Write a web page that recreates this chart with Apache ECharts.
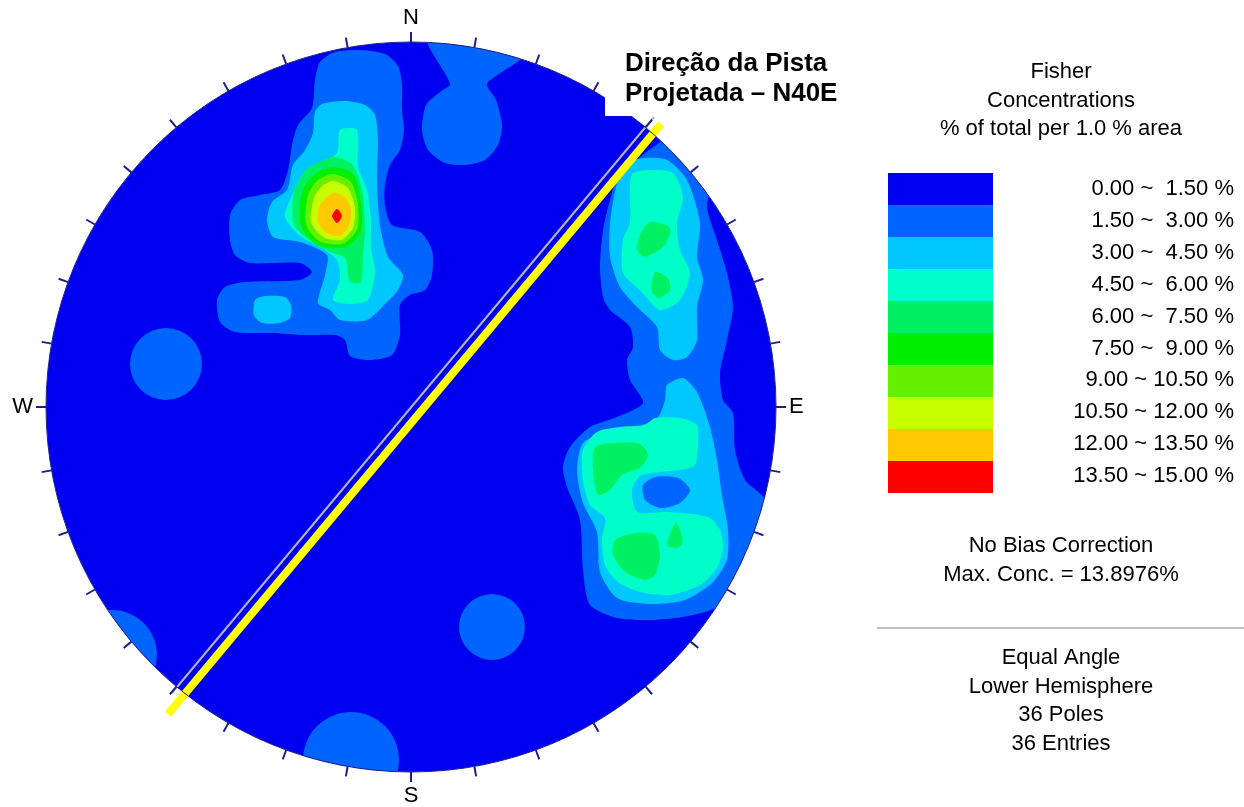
<!DOCTYPE html>
<html>
<head>
<meta charset="utf-8">
<script src="https://cdn.jsdelivr.net/npm/echarts@6/dist/echarts.min.js"></script>
<style>
  html, body { margin: 0; padding: 0; background: #fff; }
  #chart { width: 1244px; height: 807px; }
</style>
</head>
<body>
<div id="chart"></div>
<script>
// Fisher concentrations, % of total per 1.0 % area
var levelBreaks = [0, 1.5, 3, 4.5, 6, 7.5, 9, 10.5, 12, 13.5, 15];
var levelColors = ['#0000F0', '#0064FF', '#00C8FF', '#00FFC8', '#00F064', '#00F000', '#64F000', '#C8FF00', '#FFC800', '#FF0000'];
var levelLabels = ['0.00 ~  1.50 %', '1.50 ~  3.00 %', '3.00 ~  4.50 %', '4.50 ~  6.00 %', '6.00 ~  7.50 %',
  '7.50 ~  9.00 %', '9.00 ~ 10.50 %', '10.50 ~ 12.00 %', '12.00 ~ 13.50 %', '13.50 ~ 15.00 %'];

// stereonet units: x east, y north, primitive circle radius 365
var netRadius = 365;
var compassAngles = [0, 90, 180, 270];
var compassNames = ['N', 'E', 'S', 'W'];

// contour outlines, one list per level (index into levelBreaks)
var patches1 = [
  [[-96, 327], [-91, 345], [-76, 355], [-51, 357], [-26, 353], [-13, 341], [-9, 322], [-9, 297], [-7, 277], [-11, 257],
   [-21, 242], [-26, 222], [-26, 202], [-19, 182], [9, 175], [21, 157], [21, 132], [14, 117], [-1, 112], [-11, 102],
   [-11, 72], [-19, 52], [-41, 47], [-61, 51], [-66, 67], [-76, 72], [-111, 72], [-136, 74], [-176, 75], [-191, 85],
   [-194, 107], [-186, 120], [-166, 125], [-111, 127], [-99, 135], [-111, 144], [-161, 144], [-176, 152], [-181, 167],
   [-181, 192], [-171, 207], [-151, 212], [-131, 217], [-123, 237], [-119, 262], [-113, 282], [-99, 299]],
  [[17, 369], [114, 367], [111, 349], [94, 337], [76, 323], [85, 307], [91, 282], [87, 262], [74, 247], [54, 242],
   [34, 244], [17, 257], [11, 277], [15, 302], [29, 315], [39, 323]],
  [[219, 242], [234, 254], [251, 267], [257, 279], [289, 257], [301, 229], [296, 200], [306, 167], [316, 134], [322, 100],
   [316, 67], [309, 34], [312, 7], [322, -6], [324, -43], [334, -73], [354, -93], [354, -153], [329, -183], [311, -198],
   [294, -205], [272, -210], [239, -213], [206, -211], [179, -198], [172, -163], [169, -113], [156, -80], [152, -60],
   [159, -40], [179, -20], [206, -10], [232, 4], [219, 27], [216, 47], [222, 60], [219, 80], [199, 97], [192, 110],
   [189, 140], [192, 177], [199, 207], [206, 229]]
];
// round patches at level 1: [x, y, radius]
var spots1 = [[-245, 43, 36], [81, -220, 33], [-60, -353, 48], [-299, -248, 45]];
var patches2 = [
  [[-89, 303], [-66, 306], [-46, 302], [-36, 292], [-33, 267], [-34, 227], [-31, 182], [-23, 150], [-8, 132], [-13, 117],
   [-24, 105], [-44, 87], [-71, 87], [-81, 97], [-93, 104], [-86, 132], [-84, 152], [-111, 165], [-138, 170], [-144, 187],
   [-139, 205], [-124, 217], [-118, 242], [-106, 257], [-98, 274], [-96, 295]],
  [[-156, 107], [-146, 111], [-126, 110], [-120, 102], [-121, 89], [-131, 84], [-149, 84], [-157, 92]],
  [[216, 244], [234, 249], [256, 247], [276, 227], [289, 184], [286, 150], [292, 127], [286, 100], [286, 67], [276, 50],
   [262, 47], [249, 57], [246, 80], [226, 100], [209, 120], [199, 150], [199, 184], [206, 224]],
  [[256, 22], [272, 29], [286, 15], [299, -20], [306, -53], [311, -88], [317, -123], [316, -153], [301, -176], [274, -193],
   [239, -197], [206, -191], [189, -165], [186, -125], [172, -96], [166, -63], [172, -36], [196, -26], [226, -20],
   [247, -10], [254, 7]]
];
// level-1 hollow inside the lower east cluster
var holes1 = [
  [[232, -78], [244, -70], [267, -71], [279, -83], [269, -96], [249, -101], [234, -93]]
];
var patches3 = [
  [[-71, 277], [-54, 277], [-53, 240], [-44, 217], [-40, 187], [-40, 160], [-36, 134], [-43, 107], [-61, 103], [-78, 107],
   [-71, 127], [-74, 147], [-89, 159], [-111, 171], [-126, 190], [-121, 207], [-111, 227], [-98, 240], [-74, 254]],
  [[222, 234], [239, 237], [262, 234], [272, 210], [266, 184], [269, 157], [279, 134], [269, 107], [249, 97], [229, 117],
   [212, 134], [212, 167], [219, 184], [219, 224]],
  [[172, -43], [186, -25], [209, -20], [234, -18], [244, -11], [269, -11], [286, -18], [287, -38], [284, -58], [269, -63],
   [249, -65], [229, -69], [221, -83], [226, -105], [254, -105], [281, -107], [299, -111], [309, -123], [312, -141],
   [306, -161], [289, -178], [259, -188], [229, -185], [207, -175], [194, -158], [191, -133], [194, -111], [179, -98],
   [172, -73]]
];
var patches4 = [
  [[-78, 250], [-59, 243], [-49, 217], [-46, 177], [-48, 152], [-50, 125], [-61, 125], [-66, 149], [-81, 155], [-99, 165],
   [-117, 182], [-117, 215], [-105, 237]],
  [[239, 185], [259, 179], [254, 162], [234, 150], [226, 157], [229, 172]],
  [[244, 135], [257, 129], [259, 117], [249, 109], [241, 115]],
  [[184, -40], [204, -36], [229, -37], [237, -48], [229, -61], [211, -68], [199, -83], [187, -88], [182, -63]],
  [[204, -133], [224, -126], [244, -128], [249, -148], [244, -168], [234, -173], [214, -165], [202, -148]],
  [[265, -116], [272, -133], [267, -141], [256, -138]]
];
var patches5 = [
  [[-78, 240], [-57, 232], [-50, 204], [-50, 175], [-66, 160], [-94, 162], [-110, 181], [-109, 215], [-96, 233]]
];
var patches6 = [
  [[-78, 233], [-60, 225], [-53, 202], [-54, 177], [-69, 163], [-92, 166], [-105, 183], [-103, 212], [-93, 227]]
];
var patches7 = [
  [[-78, 226], [-63, 219], [-56, 199], [-58, 179], [-70, 167], [-88, 170], [-100, 185], [-97, 209], [-89, 221]]
];
var patches8 = [
  [[-78, 214], [-66, 210], [-60, 197], [-62, 181], [-71, 171], [-84, 174], [-93, 185], [-91, 202]]
];
var patches9 = [
  [[-74, 198], [-69, 191], [-74, 184], [-79, 191]]
];

// projected runway direction N40E and the strike trace
var runwayLine = [[-243, -307], [250, 283]];
var strikeLine = [[-239, -286], [243, 290]];

var infoTitle = ['Fisher', 'Concentrations', '% of total per 1.0 % area'];
var infoNotes = ['No Bias Correction', 'Max. Conc. = 13.8976%'];
var infoNet = ['Equal Angle', 'Lower Hemisphere', '36 Poles', '36 Entries'];
var runwayText = ['Direção da Pista', 'Projetada – N40E'];

// drawing order: background disk, then levels low to high
var shapes = [{ lvl: 0, spot: [0, 0, netRadius] }];
function addPatches(list, lvl) {
  list.forEach(function (p) { shapes.push({ lvl: lvl, pts: p }); });
}
addPatches(patches1, 1);
spots1.forEach(function (s) { shapes.push({ lvl: 1, spot: s }); });
addPatches(patches2, 2);
addPatches(holes1, 1);
addPatches(patches3, 3);
addPatches(patches4, 4);
addPatches(patches5, 5);
addPatches(patches6, 6);
addPatches(patches7, 7);
addPatches(patches8, 8);
addPatches(patches9, 9);

var contourData = shapes.map(function (s) {
  return [(levelBreaks[s.lvl] + levelBreaks[s.lvl + 1]) / 2];
});

function renderContour(params, api) {
  var s = shapes[params.dataIndex];
  var o = api.coord([0, 0]);
  var rPx = api.size([netRadius, 0])[0];
  var clip = { type: 'circle', shape: { cx: o[0], cy: o[1], r: rPx } };
  var fill = api.visual('color');
  if (s.spot) {
    var c = api.coord([s.spot[0], s.spot[1]]);
    return {
      type: 'circle',
      shape: { cx: c[0], cy: c[1], r: api.size([s.spot[2], 0])[0] },
      style: { fill: fill },
      clipPath: clip
    };
  }
  return {
    type: 'polygon',
    shape: { points: s.pts.map(function (p) { return api.coord(p); }), smooth: 0.25 },
    style: { fill: fill },
    clipPath: clip
  };
}

var font = 'Liberation Sans';
var graphics = [
  { type: 'rect', z: 50, shape: { x: 605, y: 38, width: 265, height: 78 }, style: { fill: '#fff' } }
];
runwayText.forEach(function (t, i) {
  graphics.push({ type: 'text', z: 60, x: 625, y: 64 + i * 30,
    style: { text: t, fontSize: 26, fontWeight: 'bold', fontFamily: font, fill: '#000', align: 'left', verticalAlign: 'middle' } });
});
function centerLines(list, y0, step) {
  list.forEach(function (t, i) {
    graphics.push({ type: 'text', z: 60, x: 1061, y: y0 + i * step,
      style: { text: t, fontSize: 22, fontFamily: font, fill: '#000', align: 'center', verticalAlign: 'middle' } });
  });
}
centerLines(infoTitle, 72, 28.5);
centerLines(infoNotes, 546, 29);
centerLines(infoNet, 658, 28.7);
levelLabels.forEach(function (t, i) {
  graphics.push({ type: 'text', z: 60, x: 1234, y: 189 + i * 31.9,
    style: { text: t, fontSize: 22, fontFamily: font, fill: '#000', align: 'right', verticalAlign: 'middle' } });
});
graphics.push({ type: 'line', z: 60, shape: { x1: 877, y1: 628, x2: 1244, y2: 628 }, style: { stroke: '#808080', lineWidth: 1 } });

var chart = echarts.init(document.getElementById('chart'));
var option = {
  animation: false,
  backgroundColor: '#fff',
  grid: { left: 46, top: 42, width: 730, height: 730 },
  xAxis: { type: 'value', min: -netRadius, max: netRadius, show: false },
  yAxis: { type: 'value', min: -netRadius, max: netRadius, show: false },
  polar: { center: [411, 407], radius: 365 },
  radiusAxis: { show: false, min: 0, max: 1 },
  angleAxis: {
    type: 'value', min: 0, max: 360, interval: 10, startAngle: 90, clockwise: true, z: 10,
    axisLine: { lineStyle: { color: '#20208a', width: 1 } },
    axisTick: { length: 10, lineStyle: { color: '#20208a', width: 2 } },
    axisLabel: {
      margin: 13, color: '#000', fontSize: 22, fontFamily: font,
      formatter: function (v) {
        var k = compassAngles.indexOf(v);
        return k >= 0 ? compassNames[k] : '';
      }
    },
    splitLine: { show: false }
  },
  visualMap: {
    type: 'piecewise', seriesIndex: 0, dimension: 0,
    pieces: levelColors.map(function (c, i) {
      return { gte: levelBreaks[i], lt: levelBreaks[i + 1], color: c };
    }),
    orient: 'vertical', inverse: true, left: 888, top: 173,
    itemWidth: 105, itemHeight: 32, itemGap: 0, itemSymbol: 'rect',
    showLabel: false, padding: 0, selectedMode: false, hoverLink: false
  },
  series: [
    {
      type: 'custom', coordinateSystem: 'cartesian2d', silent: true, clip: false,
      renderItem: renderContour, data: contourData, z: 2
    },
    {
      type: 'line', data: strikeLine, symbol: 'none', silent: true, z: 4,
      lineStyle: { color: '#b4b4c4', width: 2 }
    },
    {
      type: 'line', data: runwayLine, symbol: 'none', silent: true, z: 5,
      lineStyle: { color: '#FFFF00', width: 8, cap: 'butt' }
    }
  ],
  graphic: { elements: graphics }
};
chart.setOption(option);
</script>
</body>
</html>
